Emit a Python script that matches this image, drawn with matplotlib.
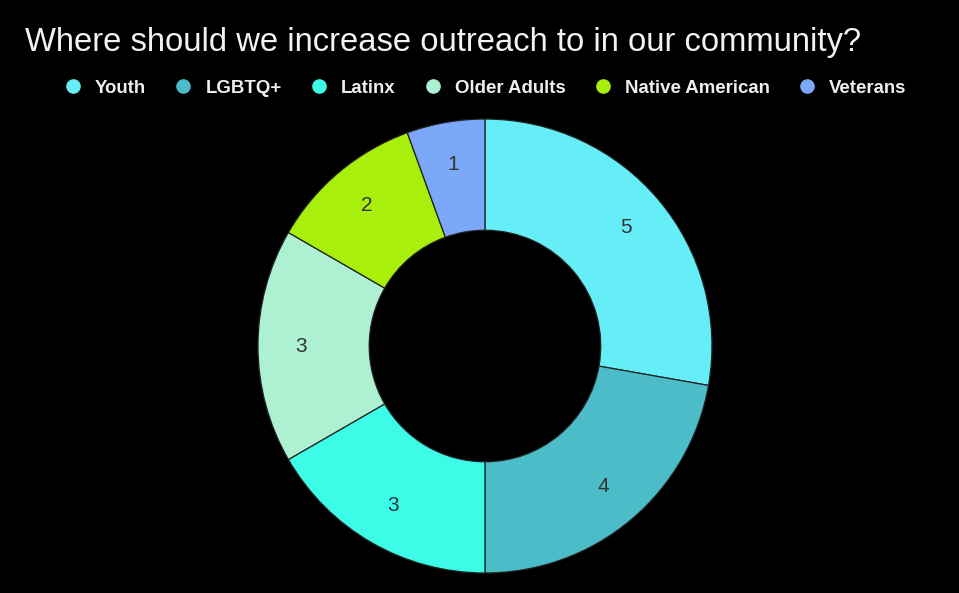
import matplotlib.pyplot as plt
from matplotlib.lines import Line2D

plt.rcParams['font.family'] = ['Liberation Sans', 'DejaVu Sans']

# data
groups = ["Youth", "LGBTQ+", "Latinx", "Older Adults", "Native American", "Veterans"]
counts = [5, 4, 3, 3, 2, 1]
colors = ["#66EEF8", "#4BBCC8", "#3CFCE8", "#AEF0D2", "#A8F00C", "#7BA8F8"]
title = "Where should we increase outreach to in our community?"

fig = plt.figure(figsize=(9.59, 5.93), dpi=100, facecolor="black")

# donut axes, square, centred under the legend
ax = fig.add_axes([0.269, 0.0337, 0.4734, 0.7656])
ax.set_facecolor("black")
total = sum(counts)
wedges, _, autotexts = ax.pie(
    counts, colors=colors, startangle=90, counterclock=False,
    radius=1.0, pctdistance=0.81,
    autopct=lambda p: "%d" % round(p * total / 100),
    wedgeprops=dict(width=0.49, edgecolor="#222222", linewidth=0.9),
    textprops=dict(color="#333333", fontsize=15),
)
ax.set_xlim(-1, 1)
ax.set_ylim(-1, 1)
ax.set_aspect("equal")
ax.axis("off")

fig.text(25 / 959, 1 - 42 / 593, title, color="#f2f2f2", fontsize=23.6,
         ha="left", va="center")

handles = [Line2D([0], [0], marker="o", linestyle="none", markersize=9.5,
                  markerfacecolor=c, markeredgecolor=c) for c in colors]
leg = fig.legend(handles, groups, loc="center", bbox_to_anchor=(0.5057, 1 - 88 / 593),
                 ncol=6, frameon=False, handlelength=1.0, handletextpad=0.68,
                 columnspacing=1.5, prop=dict(size=13.4, weight="bold"))
for t in leg.get_texts():
    t.set_color("#eeeeee")

fig.savefig("out.png", dpi=100, facecolor="black")
